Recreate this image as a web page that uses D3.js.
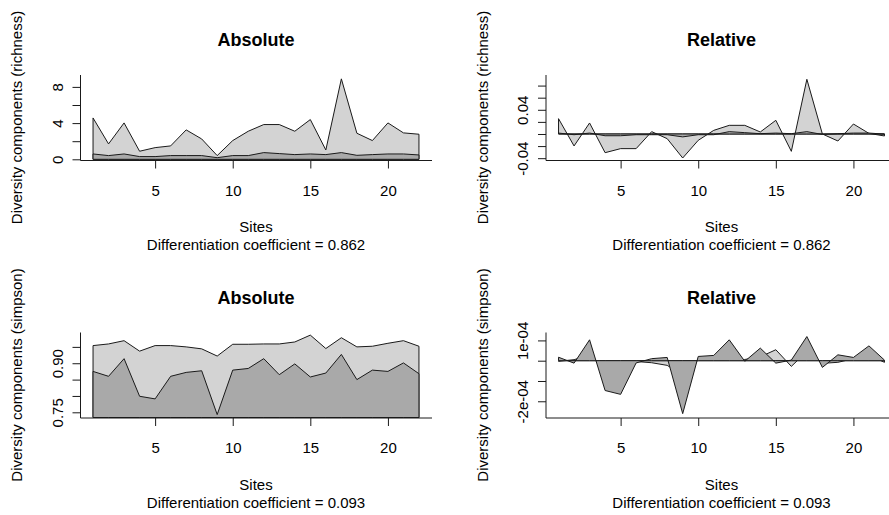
<!DOCTYPE html>
<html>
<head>
<meta charset="utf-8">
<script src="https://cdn.jsdelivr.net/npm/d3@7"></script>
<style>
  body { margin: 0; background: #fff; }
  svg { display: block; }
  text { font-family: "Liberation Sans", Arial, sans-serif; fill: #000; }
</style>
</head>
<body>
<svg id="chart" width="889" height="515"></svg>
<script>
// Sites along the horizontal axis
const sites = [1, 2, 3, 4, 5, 6, 7, 8, 9, 10, 11, 12, 13, 14, 15, 16, 17, 18, 19, 20, 21, 22];
const siteTicks = [5, 10, 15, 20];

// Richness: total (gamma) and within-site (alpha) components
const richnessGamma = [4.57, 1.70, 4.02, 0.89, 1.29, 1.48, 3.25, 2.25, 0.41, 2.07, 3.10, 3.84, 3.84, 3.10, 4.39, 1.03, 8.89, 2.88, 2.07, 4.02, 2.92, 2.77];
const richnessAlpha = [0.59, 0.41, 0.59, 0.30, 0.30, 0.41, 0.41, 0.41, 0.18, 0.41, 0.41, 0.74, 0.63, 0.52, 0.59, 0.52, 0.74, 0.44, 0.52, 0.59, 0.59, 0.48];
// Richness, relative contributions
const richnessRelGamma = [0.0253, -0.0198, 0.0182, -0.0309, -0.0242, -0.0242, 0.0039, -0.0077, -0.0397, -0.0105, 0.0060, 0.0143, 0.0143, 0.0033, 0.0226, -0.0287, 0.0904, 0.0000, -0.0116, 0.0165, 0.0010, -0.0033];
const richnessRelAlpha = [0.0015, -0.0012, 0.0015, -0.0029, -0.0029, -0.0012, -0.0012, -0.0012, -0.0048, -0.0012, -0.0012, 0.0039, 0.0022, 0.0005, 0.0015, 0.0005, 0.0039, -0.0008, 0.0005, 0.0015, 0.0015, -0.0002];

// Simpson: total (gamma) and within-site (alpha) components
const simpsonGamma = [0.954, 0.959, 0.969, 0.937, 0.954, 0.954, 0.950, 0.944, 0.922, 0.958, 0.958, 0.959, 0.959, 0.965, 0.986, 0.945, 0.978, 0.950, 0.952, 0.961, 0.969, 0.952];
const simpsonAlpha = [0.875, 0.860, 0.914, 0.799, 0.791, 0.860, 0.872, 0.877, 0.743, 0.879, 0.884, 0.914, 0.865, 0.898, 0.858, 0.870, 0.927, 0.850, 0.879, 0.875, 0.901, 0.868];
// Simpson, relative contributions
const simpsonRelGamma = [-0.3e-5, 0.5e-5, 2.7e-5, -4.0e-5, -0.4e-5, -0.4e-5, -1.0e-5, -2.3e-5, -7.0e-5, 0.4e-5, 0.4e-5, 0.6e-5, 0.6e-5, 1.9e-5, 5.4e-5, -2.8e-5, 4.6e-5, -1.3e-5, -0.8e-5, 1.0e-5, 2.7e-5, -0.8e-5];
const simpsonRelAlpha = [1.7e-5, -1.2e-5, 10.3e-5, -14.7e-5, -16.6e-5, -1.1e-5, 1.0e-5, 1.6e-5, -26.1e-5, 2.1e-5, 2.6e-5, 10.3e-5, -0.3e-5, 6.2e-5, -1.2e-5, 0.3e-5, 11.9e-5, -3.3e-5, 2.9e-5, 1.6e-5, 7.3e-5, 0.3e-5];

// Vertical axis ticks and the labels printed on them ("" = unlabelled tick)
const richnessTicks = [0, 2, 4, 6, 8];
const richnessTickLabels = ["0", "", "4", "", "8"];
const richnessRelTicks = [-0.04, -0.02, 0, 0.02, 0.04, 0.06, 0.08];
const richnessRelTickLabels = ["-0.04", "", "", "", "0.04", "", ""];
const simpsonTicks = [0.75, 0.80, 0.85, 0.90, 0.95];
const simpsonTickLabels = ["0.75", "", "", "0.90", ""];
const simpsonRelTicks = [-2e-4, -1e-4, 0, 1e-4];
const simpsonRelTickLabels = ["-2e-04", "", "", "1e-04"];

const coefficients = ["0.862", "0.093"];

// ---- layout ----
const svg = d3.select("#chart");
const colOffset = [0, 465.5];
const rowOffset = [0, 257.5];
const plotLeft = 80, plotWidth = 352;
const plotTop = 75, plotBottom = 160;
const LIGHT = "#d3d3d3", DARK = "#a9a9a9", INK = "#1a1a1a";
const FONT = "'Liberation Sans', Arial, sans-serif";

const x = d3.scaleLinear().domain([0.16, 22.84]).range([plotLeft, plotLeft + plotWidth]);

const panels = [
  { col: 0, row: 0, title: "Absolute", ylab: "Diversity components (richness)", coef: coefficients[0],
    gamma: richnessGamma, alpha: richnessAlpha, ticks: richnessTicks, tickLabels: richnessTickLabels,
    domain: [-0.077, 9.315], base: 0 },
  { col: 1, row: 0, title: "Relative", ylab: "Diversity components (richness)", coef: coefficients[0],
    gamma: richnessRelGamma, alpha: richnessRelAlpha, ticks: richnessRelTicks, tickLabels: richnessRelTickLabels,
    domain: [-0.043, 0.0975], base: 0 },
  { col: 0, row: 1, title: "Absolute", ylab: "Diversity components (simpson)", coef: coefficients[1],
    gamma: simpsonGamma, alpha: simpsonAlpha, ticks: simpsonTicks, tickLabels: simpsonTickLabels,
    domain: [0.7341, 0.994], base: null },
  { col: 1, row: 1, title: "Relative", ylab: "Diversity components (simpson)", coef: coefficients[1],
    gamma: simpsonRelGamma, alpha: simpsonRelAlpha, ticks: simpsonRelTicks, tickLabels: simpsonRelTickLabels,
    domain: [-2.80e-4, 1.39e-4], base: 0 }
];

panels.forEach(p => {
  const g = svg.append("g")
    .attr("transform", `translate(${colOffset[p.col]},${rowOffset[p.row]})`);

  const y = d3.scaleLinear().domain(p.domain).range([plotBottom, plotTop]);
  const base = p.base === null ? p.domain[0] : p.base;

  const area = vals => d3.area()
    .x((d, i) => x(sites[i]))
    .y0(y(base))
    .y1(d => y(d))(vals);

  // total component first, within-site component on top
  g.append("path").attr("d", area(p.gamma))
    .attr("fill", LIGHT).attr("stroke", INK).attr("stroke-width", 1);
  g.append("path").attr("d", area(p.alpha))
    .attr("fill", DARK).attr("stroke", INK).attr("stroke-width", 1);

  // L-shaped frame
  g.append("path")
    .attr("d", `M${plotLeft + 0.5},${plotTop}V${plotBottom + 0.5}H${plotLeft + plotWidth}`)
    .attr("fill", "none").attr("stroke", INK).attr("stroke-width", 1);

  // bottom axis
  const xa = g.append("g")
    .attr("transform", `translate(0,${plotBottom + 0.5})`)
    .call(d3.axisBottom(x).tickValues(siteTicks).tickSize(8).tickSizeOuter(0));
  xa.select(".domain").remove();
  xa.selectAll("line").attr("stroke", INK);
  xa.selectAll("text")
    .attr("y", 35).attr("dy", 0)
    .style("font-size", "15px").style("font-family", FONT)
    .attr("fill", "#000");

  // left axis with rotated labels
  const ya = g.append("g")
    .attr("transform", `translate(${plotLeft + 0.5},0)`)
    .call(d3.axisLeft(y).tickValues(p.ticks).tickSize(8).tickSizeOuter(0)
      .tickFormat((d, i) => p.tickLabels[i]));
  ya.select(".domain").remove();
  ya.selectAll("line").attr("stroke", INK);
  ya.selectAll("text")
    .attr("transform", "rotate(-90)")
    .attr("x", 0).attr("y", -18).attr("dy", 0)
    .attr("text-anchor", "middle")
    .style("font-size", "15px").style("font-family", FONT)
    .attr("fill", "#000");

  const cx = plotLeft + plotWidth / 2;
  // title
  g.append("text").attr("x", cx).attr("y", 46)
    .attr("text-anchor", "middle")
    .style("font-size", "18px").style("font-weight", "bold")
    .text(p.title);
  // axis title and coefficient
  g.append("text").attr("x", cx).attr("y", 232)
    .attr("text-anchor", "middle").style("font-size", "15px").text("Sites");
  g.append("text").attr("x", cx).attr("y", 250)
    .attr("text-anchor", "middle").style("font-size", "15px")
    .text(`Differentiation coefficient = ${p.coef}`);
  // vertical axis title
  g.append("text")
    .attr("transform", `translate(22,${(plotTop + plotBottom) / 2}) rotate(-90)`)
    .attr("text-anchor", "middle").style("font-size", "15px")
    .text(p.ylab);
});
</script>
</body>
</html>
